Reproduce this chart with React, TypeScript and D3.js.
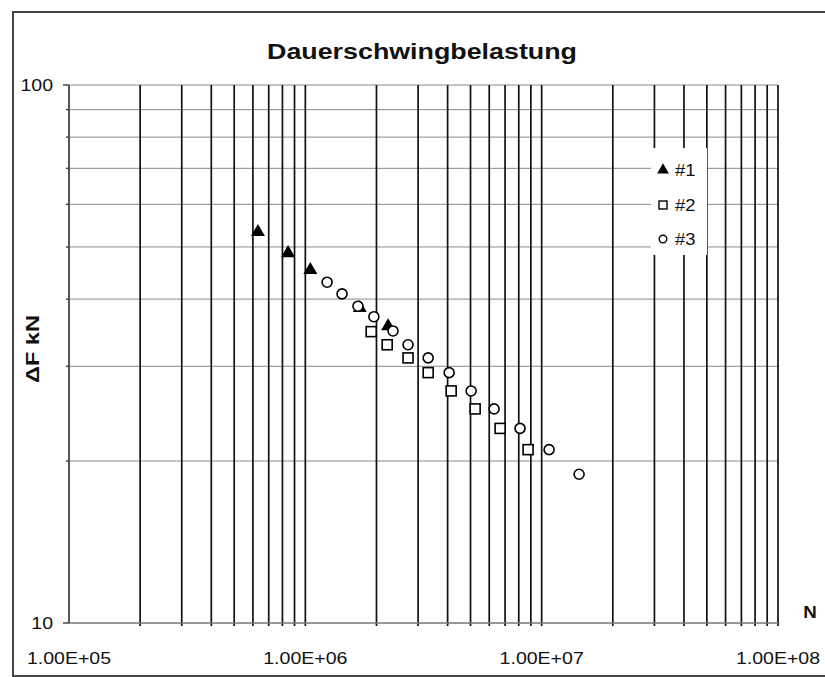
import React, { useEffect, useRef } from 'react';
import * as d3 from 'd3';

// load cycles N and force amplitude ΔF (kN)
const series1N = [6.3e5, 8.45e5, 1.05e6, 1.7e6, 2.24e6];
const series1F = [53.3, 48.7, 45.3, 38.5, 35.6];

const series2N = [1.9e6, 2.22e6, 2.72e6, 3.31e6, 4.14e6, 5.23e6, 6.67e6, 8.76e6];
const series2F = [34.8, 32.9, 31.1, 29.2, 27.0, 25.0, 23.0, 21.0];

const series3N = [1.236e6, 1.43e6, 1.67e6, 1.95e6, 2.35e6, 2.72e6, 3.31e6, 4.06e6, 5.03e6, 6.29e6, 8.1e6, 1.075e7, 1.44e7];
const series3F = [43.0, 40.9, 38.8, 37.1, 34.9, 32.9, 31.1, 29.2, 27.0, 25.0, 23.0, 21.0, 18.9];

const xTicks = [1e5, 1e6, 1e7, 1e8];
const xTickLabels = ['1.00E+05', '1.00E+06', '1.00E+07', '1.00E+08'];
const yTicks = [10, 100];
const yTickLabels = ['10', '100'];
const legendLabels = ['#1', '#2', '#3'];

const App = () => {
    const ref = useRef<SVGSVGElement>(null);

    useEffect(() => {
        const svg = d3.select(ref.current);
        svg.selectAll('*').remove();

        const left = 69, right = 778, top = 85, bottom = 623;
        const x = d3.scaleLog().domain([1e5, 1e8]).range([left, right]);
        const y = d3.scaleLog().domain([10, 100]).range([bottom, top]);
        const font = 'Arial, "Liberation Sans", sans-serif';
        const stretch = 1.15;

        // outer chart border (right edge runs off the page)
        svg.append('rect')
            .attr('x', 13).attr('y', 12).attr('width', 860).attr('height', 664)
            .attr('fill', 'white').attr('stroke', '#444').attr('stroke-width', 2);

        // horizontal minor gridlines 20..100
        const yGrid = d3.range(20, 101, 10);
        svg.append('g').selectAll('line').data(yGrid).join('line')
            .attr('x1', left).attr('x2', right)
            .attr('y1', d => y(d)).attr('y2', d => y(d))
            .attr('stroke', '#8a8a8a').attr('stroke-width', 1);

        // vertical gridlines 2..10 per decade
        const xGrid: number[] = [];
        [1e5, 1e6, 1e7].forEach(dec => {
            for (let k = 2; k <= 10; k++) xGrid.push(dec * k);
        });
        svg.append('g').selectAll('line').data(xGrid).join('line')
            .attr('x1', d => x(d)).attr('x2', d => x(d))
            .attr('y1', top).attr('y2', bottom + 3)
            .attr('stroke', '#111').attr('stroke-width', 1.7);

        // axes
        svg.append('line')
            .attr('x1', left).attr('x2', right).attr('y1', bottom).attr('y2', bottom)
            .attr('stroke', '#777').attr('stroke-width', 1.5);
        svg.append('line')
            .attr('x1', left).attr('x2', left).attr('y1', top).attr('y2', bottom)
            .attr('stroke', '#555').attr('stroke-width', 2);

        // y ticks
        svg.append('g').selectAll('line').data(yTicks).join('line')
            .attr('x1', left - 6).attr('x2', left)
            .attr('y1', d => y(d)).attr('y2', d => y(d))
            .attr('stroke', '#444').attr('stroke-width', 1.5);
        svg.append('g').selectAll('line').data(d3.range(20, 100, 10)).join('line')
            .attr('x1', left - 3).attr('x2', left)
            .attr('y1', d => y(d)).attr('y2', d => y(d))
            .attr('stroke', '#444').attr('stroke-width', 1.5);

        const stretchedText = (g: any, tx: number, ty: number, s: string, anchor: string, size: number, weight = 'normal', k = stretch) => {
            g.append('text')
                .attr('transform', `translate(${tx},${ty}) scale(${k},1)`)
                .attr('text-anchor', anchor)
                .attr('font-family', font)
                .attr('font-size', size)
                .attr('font-weight', weight)
                .attr('fill', '#111')
                .text(s);
        };

        yTicks.forEach((t, i) => stretchedText(svg, left - 16, y(t) + 6, yTickLabels[i], 'end', 17));
        xTicks.forEach((t, i) => stretchedText(svg, x(t), 664, xTickLabels[i], 'middle', 17));

        // title
        stretchedText(svg, 422, 59, 'Dauerschwingbelastung', 'middle', 22, 'bold', 1.22);
        // axis titles
        stretchedText(svg, 810, 618, 'N', 'middle', 17, 'bold', 1.1);
        svg.append('text')
            .attr('transform', `translate(39,349) rotate(-90)`)
            .attr('text-anchor', 'middle')
            .attr('font-family', font).attr('font-size', 18).attr('font-weight', 'bold')
            .attr('textLength', 68).attr('lengthAdjust', 'spacingAndGlyphs')
            .attr('fill', '#111')
            .text('ΔF kN');

        // markers
        const tri = d3.symbol().type(d3.symbolTriangle).size(85);
        const pts1 = series1N.map((n, i) => [n, series1F[i]]);
        const pts2 = series2N.map((n, i) => [n, series2F[i]]);
        const pts3 = series3N.map((n, i) => [n, series3F[i]]);

        svg.append('g').selectAll('path').data(pts1).join('path')
            .attr('d', tri as any)
            .attr('transform', d => `translate(${x(d[0])},${y(d[1])})`)
            .attr('fill', '#000');
        svg.append('g').selectAll('rect').data(pts2).join('rect')
            .attr('x', d => x(d[0]) - 5).attr('y', d => y(d[1]) - 5)
            .attr('width', 10).attr('height', 10)
            .attr('fill', 'white').attr('stroke', '#000').attr('stroke-width', 1.6);
        svg.append('g').selectAll('circle').data(pts3).join('circle')
            .attr('cx', d => x(d[0])).attr('cy', d => y(d[1])).attr('r', 5)
            .attr('fill', 'white').attr('stroke', '#000').attr('stroke-width', 1.6);

        // legend
        const lg = svg.append('g');
        lg.append('rect').attr('x', 651).attr('y', 148).attr('width', 56).attr('height', 107)
            .attr('fill', 'white').attr('stroke', 'none');
        const rowY = [170, 205, 239];
        lg.append('path').attr('d', d3.symbol().type(d3.symbolTriangle).size(60)() as string)
            .attr('transform', `translate(663,${rowY[0]})`).attr('fill', '#000');
        lg.append('rect').attr('x', 659).attr('y', rowY[1] - 4).attr('width', 8).attr('height', 8)
            .attr('fill', 'white').attr('stroke', '#000').attr('stroke-width', 1.4);
        lg.append('circle').attr('cx', 663).attr('cy', rowY[2]).attr('r', 3.8)
            .attr('fill', 'white').attr('stroke', '#000').attr('stroke-width', 1.4);
        legendLabels.forEach((s, i) => stretchedText(lg, 675, rowY[i] + 6, s, 'start', 16));
    }, []);

    return (
        <div style={{ position: 'absolute', left: 0, top: 0 }}>
            <svg ref={ref} width={825} height={677} style={{ display: 'block' }}></svg>
        </div>
    );
};

export default App;
